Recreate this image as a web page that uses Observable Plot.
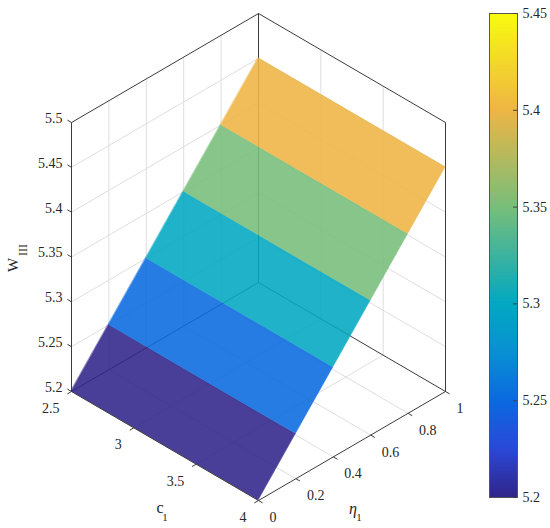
<!DOCTYPE html>
<html><head><meta charset="utf-8">
<script src="https://cdn.jsdelivr.net/npm/d3@7"></script>
<script src="https://cdn.jsdelivr.net/npm/@observablehq/plot@0.6"></script>
<style>
html,body{margin:0;padding:0;background:#fff;font-family:"Liberation Serif",serif;}
#wrap{position:relative;width:550px;height:528px;}
#wrap svg{position:absolute;left:0;top:0;}
</style></head><body><div id="wrap"></div>
<script>
// ---- data ----
const c1 = [2.5, 4];                                 // surface grid along c1
const eta1 = [0, 0.2, 0.4, 0.6, 0.8, 1];             // surface grid along η1
const WIII = [5.2, 5.25, 5.3, 5.35, 5.4, 5.45];      // W_III at each η1 (same for every c1)
const cTicks = [2.5, 3, 3.5, 4];
const etaTicks = [0, 0.2, 0.4, 0.6, 0.8, 1];
const zTicks = [5.2, 5.25, 5.3, 5.35, 5.4, 5.45, 5.5];
const cbTicks = [5.2, 5.25, 5.3, 5.35, 5.4, 5.45];
const cmapStops = [5.2, 5.225, 5.25, 5.275, 5.3, 5.35, 5.4, 5.45];
const cmapColors = ["#30258A", "#2A48D8", "#0A6AE0", "#0890D2", "#02A8C1", "#78BE7A", "#EEB544", "#F9FB0E"];

// ---- 3D view projection (data -> planar coordinates fed to Plot's x/y scales) ----
const [cMin, cMax] = d3.extent(cTicks);
const [eMin, eMax] = d3.extent(etaTicks);
const [zMin, zMax] = d3.extent(zTicks);
const K = 269 / 109;
function P(c, e, w) {
  const u = (c - cMin) / (cMax - cMin), v = (e - eMin) / (eMax - eMin), t = (w - zMin) / (zMax - zMin);
  return {x: u + v, y: v - u + K * t};
}
const seg = (a, b) => { const p = P(...a), q = P(...b); return {x1: p.x, y1: p.y, x2: q.x, y2: q.y}; };

// grid lines
const grid = [];
etaTicks.slice(1, -1).forEach(e => {
  grid.push(seg([cMin, e, zMin], [cMin, e, zMax]));
  grid.push(seg([cMin, e, zMin], [cMax, e, zMin]));
});
cTicks.slice(1, -1).forEach(c => {
  grid.push(seg([c, eMax, zMin], [c, eMax, zMax]));
  grid.push(seg([c, eMin, zMin], [c, eMax, zMin]));
});
zTicks.slice(1, -1).forEach(z => {
  grid.push(seg([cMin, eMin, z], [cMin, eMax, z]));
  grid.push(seg([cMin, eMax, z], [cMax, eMax, z]));
});
// back box edges
const backBox = [
  seg([cMin, eMin, zMax], [cMin, eMax, zMax]),
  seg([cMin, eMax, zMax], [cMax, eMax, zMax]),
  seg([cMin, eMax, zMin], [cMin, eMax, zMax]),
  seg([cMax, eMax, zMin], [cMax, eMax, zMax]),
  seg([cMin, eMin, zMin], [cMin, eMax, zMin]),
  seg([cMin, eMax, zMin], [cMax, eMax, zMin]),
];
// axes in front
const frontAxes = [
  seg([cMin, eMin, zMin], [cMin, eMin, zMax]),
  seg([cMin, eMin, zMin], [cMax, eMin, zMin]),
  seg([cMax, eMin, zMin], [cMax, eMax, zMin]),
];
const tl = 0.022;
const tickSegs = [
  ...zTicks.map(z => seg([cMin, eMin, z], [cMin - tl * (cMax - cMin), eMin, z])),
  ...cTicks.map(c => seg([c, eMin, zMin], [c, eMin - tl * (eMax - eMin), zMin])),
  ...etaTicks.map(e => seg([cMax, e, zMin], [cMax + tl * (cMax - cMin), e, zMin])),
];
// surface faces as two-point areas (edge at η_i -> edge at η_{i+1}); flat shading: colour of first vertex
const faces = [];
for (let i = 0; i < eta1.length - 1; i++) {
  for (let j = 0; j < c1.length; j++) {
    const a = P(c1[j], eta1[i], WIII[i]), b = P(c1[j], eta1[i + 1], WIII[i + 1]);
    faces.push({x1: a.x, y1: a.y, x2: b.x, y2: b.y, face: "f" + i, w: WIII[i]});
  }
}
const lk = {x1: "x1", y1: "y1", x2: "x2", y2: "y2"};
const fmt = d => String(d);
const ff = "Liberation Serif";
const colorOpt = {type: "linear", domain: cmapStops, range: cmapColors};
const style = "font-family:'Liberation Serif',serif;font-size:14px;color:#262626;background:transparent;overflow:visible;";

const main = Plot.plot({
  width: 550, height: 528, marginLeft: 71, marginRight: 105, marginTop: 13, marginBottom: 28,
  x: {domain: [0, 2], axis: null},
  y: {domain: [-1, 1 + K], axis: null},
  color: colorOpt,
  style,
  marks: [
    Plot.link(grid, {...lk, stroke: "#dedede", strokeWidth: 1}),
    Plot.link(backBox, {...lk, stroke: "#3c3c3c", strokeWidth: 1}),
    Plot.area(faces, {...lk, z: "face", fill: "w", stroke: "w", strokeWidth: 0.6}),
    Plot.link(frontAxes, {...lk, stroke: "#3c3c3c", strokeWidth: 1}),
    Plot.link(tickSegs, {...lk, stroke: "#3c3c3c", strokeWidth: 1}),
    Plot.text(zTicks, {x: d => P(cMin, eMin, d).x, y: d => P(cMin, eMin, d).y, text: fmt, textAnchor: "end", dx: -9, dy: -4, fontSize: 14, fontFamily: ff}),
    Plot.text(cTicks, {x: d => P(d, eMin, zMin).x, y: d => P(d, eMin, zMin).y, text: fmt, textAnchor: "end", dx: -12, dy: 17, fontSize: 14, fontFamily: ff}),
    Plot.text(etaTicks, {x: d => P(cMax, d, zMin).x, y: d => P(cMax, d, zMin).y, text: fmt, textAnchor: "start", dx: 11, dy: 17, fontSize: 14, fontFamily: ff}),
    // axis titles
    Plot.text([P(cMin, eMin, (zMin + zMax) / 2)], {x: "x", y: "y", text: ["W"], rotate: -90, fontSize: 15, dx: -58, dy: 8, fontFamily: ff}),
    Plot.text([P(cMin, eMin, (zMin + zMax) / 2)], {x: "x", y: "y", text: ["III"], rotate: -90, fontSize: 12, dx: -48, dy: -7, fontFamily: ff}),
    Plot.text([P((cMin + cMax) / 2, eMin, zMin)], {x: "x", y: "y", text: ["c"], fontSize: 16, dx: -5, dy: 62, fontFamily: ff}),
    Plot.text([P((cMin + cMax) / 2, eMin, zMin)], {x: "x", y: "y", text: ["1"], fontSize: 11, dx: 0, dy: 71, fontFamily: ff}),
    Plot.text([P(cMax, (eMin + eMax) / 2, zMin)], {x: "x", y: "y", text: ["η"], fontSize: 16, fontStyle: "italic", dx: 1, dy: 63, fontFamily: ff}),
    Plot.text([P(cMax, (eMin + eMax) / 2, zMin)], {x: "x", y: "y", text: ["1"], fontSize: 11, dx: 7, dy: 71, fontFamily: ff}),
  ]
});
const surf = main.querySelector('g[aria-label="area"]');
if (surf) surf.setAttribute("opacity", "0.88");

// colorbar
const N = 240;
const [bLo, bHi] = d3.extent(cbTicks);
const cbRows = d3.range(N).map(i => {
  const y1 = bLo + (bHi - bLo) * i / N, y2 = Math.min(bHi, bLo + (bHi - bLo) * (i + 1.4) / N);
  return {y1, y2, v: bLo + (bHi - bLo) * (i + 0.5) / N};
});
const cb = Plot.plot({
  width: 550, height: 528, marginLeft: 489, marginRight: 33, marginTop: 13, marginBottom: 31,
  x: {domain: [0, 1], axis: null},
  y: {domain: [bLo, bHi], axis: null},
  color: colorOpt,
  style,
  marks: [
    Plot.rect(cbRows, {x1: 0, x2: 1, y1: "y1", y2: "y2", fill: "v", shapeRendering: "crispEdges"}),
    Plot.frame({stroke: "#555", strokeWidth: 1}),
    Plot.ruleY(cbTicks, {x1: 0.86, x2: 1, stroke: "#444"}),
    Plot.axisY(cbTicks, {anchor: "right", tickSize: 0, tickPadding: 5, tickFormat: fmt, label: null, fontSize: 14, fontFamily: ff, fontVariant: "normal"}),
  ]
});
// serif font set directly on every text element
for (const svg of [main, cb]) {
  svg.setAttribute("font-family", ff);
  svg.querySelectorAll("g").forEach(g => { if (g.getAttribute("font-family")) g.setAttribute("font-family", ff); });
  svg.querySelectorAll("text").forEach(t => {
    t.setAttribute("font-family", ff);
    t.style.setProperty("font-family", "'Liberation Serif', serif", "important");
    t.setAttribute("fill", "#262626");
  });
}
const wrap = document.getElementById("wrap");
wrap.appendChild(main);
wrap.appendChild(cb);
</script></body></html>
